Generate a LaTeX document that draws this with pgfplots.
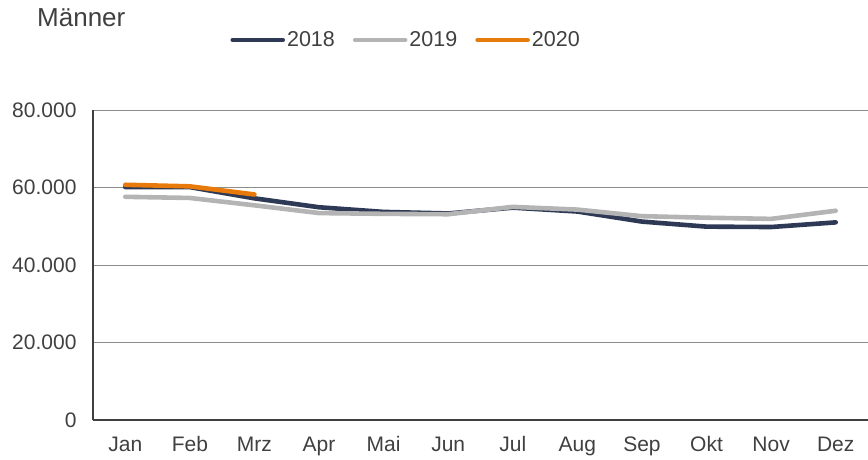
\documentclass[border=0pt]{standalone}
\usepackage{pgfplots}
\pgfplotsset{compat=1.18}
\usepackage{fontspec}
\setmainfont{Liberation Sans}
\definecolor{txt}{HTML}{404040}
\definecolor{c18}{HTML}{2E3A55}
\definecolor{c19}{HTML}{B4B4B4}
\definecolor{c20}{HTML}{E87A0C}
\definecolor{axc}{HTML}{404040}
\definecolor{grc}{HTML}{8C8C8C}
\begin{document}
\begin{tikzpicture}[x=1pt,y=1pt]
\useasboundingbox (0,0) rectangle (868,460);
\begin{axis}[
  at={(93pt,40pt)}, anchor=south west,
  width=775pt, height=310pt, scale only axis,
  xmin=-0.5, xmax=11.5, ymin=0, ymax=80000,
  xtick={0,...,11},
  xticklabels={Jan,Feb,Mrz,Apr,Mai,Jun,Jul,Aug,Sep,Okt,Nov,Dez},
  ytick={0,20000,40000,60000,80000},
  yticklabels={0,20.000,40.000,60.000,80.000},
  scaled y ticks=false,
  axis x line*=bottom, axis y line*=left,
  axis line style={axc, line width=1.3pt, -},
  ymajorgrids, grid style={grc, line width=0.9pt},
  major tick length=0pt,
  tick label style={font=\fontsize{21}{24}\selectfont, text=txt},
  yticklabel style={xshift=-13pt},
  xticklabel style={text height=15pt, text depth=4pt, yshift=-13pt},
  legend style={at={(0.404,1.2258)}, anchor=center, draw=none, fill=none,
    font=\fontsize{21.5}{24}\selectfont, text=txt, legend columns=3,
    column sep=0pt, /tikz/every even column/.append style={column sep=16pt}},
  legend image code/.code={\draw[#1, line cap=round] (0pt,0pt) -- (50pt,0pt);},
  legend cell align=left,
  clip=false,
]
\addplot[c18, line width=4.6pt, line join=round, line cap=round] coordinates {
 (0,60100) (1,60100) (2,57200) (3,54900) (4,53700) (5,53300)
 (6,54800) (7,53800) (8,51200) (9,49900) (10,49800) (11,51000)};
\addlegendentry{2018}
\addplot[c19, line width=4.6pt, line join=round, line cap=round] coordinates {
 (0,57600) (1,57300) (2,55400) (3,53400) (4,53200) (5,53100)
 (6,55000) (7,54300) (8,52600) (9,52200) (10,51900) (11,54000)};
\addlegendentry{2019}
\addplot[c20, line width=4.6pt, line join=round, line cap=round] coordinates {
 (0,60700) (1,60300) (2,58200)};
\addlegendentry{2020}
\end{axis}
\node[anchor=base west, inner sep=0pt, text=txt, font=\fontsize{26}{30}\selectfont] at (37,433) {Männer};
\end{tikzpicture}
\end{document}
